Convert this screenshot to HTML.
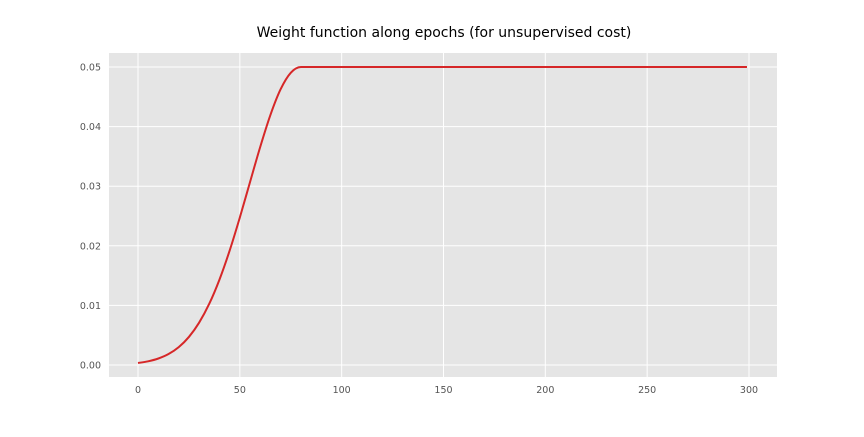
<!DOCTYPE html>
<html><head><meta charset="utf-8"><style>
body{margin:0;background:#fff;}
svg text{font-family:"DejaVu Sans","Liberation Sans",sans-serif;}
</style></head><body>
<svg id="chart" width="864" height="432">
<text x="444" y="37" text-anchor="middle" font-size="14" fill="#000">Weight function along epochs (for unsupervised cost)</text>
<rect x="109" y="53" width="668" height="324" fill="#e5e5e5"/>
<g id="grid"></g><g id="ticks"></g><g id="series"></g>
</svg>
<script>
const epochs = [0,5,10,15,20,25,30,35,40,45,50,55,60,65,70,75,80,299];
const weights = [0.00034,0.00062,0.00109,0.00184,0.00300,0.00471,0.00710,0.01028,0.01433,0.01920,0.02475,0.03069,0.03658,0.04194,0.04625,0.04903,0.05,0.05];
const xTicks = [0,50,100,150,200,250,300];
const yTicks = [0,0.01,0.02,0.03,0.04,0.05];
const yTickLabels = ["0.00","0.01","0.02","0.03","0.04","0.05"];
const NS="http://www.w3.org/2000/svg";
function xs(v){return 138+(v-0)*(749-138)/300;}
function ys(v){return 365-v*(365-67)/0.05;}
const grid=document.getElementById('grid'), ticks=document.getElementById('ticks'), series=document.getElementById('series');
xTicks.forEach(t=>{
  const l=document.createElementNS(NS,'line');
  l.setAttribute('x1',xs(t));l.setAttribute('x2',xs(t));l.setAttribute('y1',53);l.setAttribute('y2',377);
  l.setAttribute('stroke','#fff');l.setAttribute('stroke-width','1');
  
  
  grid.appendChild(l);
  const tx=document.createElementNS(NS,'text');
  tx.setAttribute('x',xs(t));tx.setAttribute('y',393);tx.setAttribute('text-anchor','middle');
  tx.setAttribute('font-size','9.5');tx.setAttribute('fill','#555');tx.textContent=t;
  
  
  ticks.appendChild(tx);
});
yTicks.forEach((t,i)=>{
  const l=document.createElementNS(NS,'line');
  l.setAttribute('x1',109);l.setAttribute('x2',777);l.setAttribute('y1',ys(t));l.setAttribute('y2',ys(t));
  l.setAttribute('stroke','#fff');l.setAttribute('stroke-width','1');
  
  
  grid.appendChild(l);
  const tx=document.createElementNS(NS,'text');
  tx.setAttribute('x',101);tx.setAttribute('y',ys(t)+3.5);tx.setAttribute('text-anchor','end');
  tx.setAttribute('font-size','9.5');tx.setAttribute('fill','#555');tx.textContent=yTickLabels[i];
  
  
  ticks.appendChild(tx);
});
const pts=epochs.map((e,i)=>[xs(e),ys(weights[i])]);
let d='M'+pts[0][0]+','+pts[0][1];
for(let i=0;i<pts.length-1;i++){
  const p0=pts[Math.max(0,i-1)],p1=pts[i],p2=pts[i+1],p3=pts[Math.min(pts.length-1,i+2)];
  if(i>=pts.length-2){d+=' L'+p2[0]+','+p2[1];continue;}
  let c1=[p1[0]+(p2[0]-p0[0])/6,p1[1]+(p2[1]-p0[1])/6];
  let c2=[p2[0]-(p3[0]-p1[0])/6,p2[1]-(p3[1]-p1[1])/6];
  if(i==pts.length-3){c2=[p2[0]-(p2[0]-p1[0])/3,p2[1]];}
  d+=' C'+c1[0]+','+c1[1]+' '+c2[0]+','+c2[1]+' '+p2[0]+','+p2[1];
}
const path=document.createElementNS(NS,'path');
path.setAttribute('d',d);path.setAttribute('fill','none');path.setAttribute('stroke','#d62728');path.setAttribute('stroke-width','2');


series.appendChild(path);
</script>
</body></html>
